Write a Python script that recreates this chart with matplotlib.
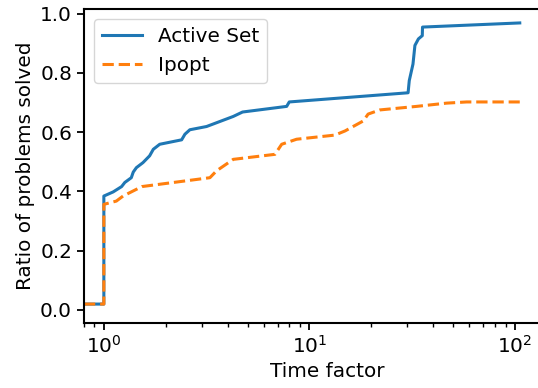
import matplotlib
import numpy as np
import matplotlib.pyplot as plt

matplotlib.use('Agg')

# performance profile, values
active_x = [0.8, 1.0, 1.0, 1.11, 1.22, 1.265, 1.36, 1.39, 1.44, 1.55, 1.67, 1.74,
            1.87, 2.39, 2.48, 2.62, 3.16, 4.26, 4.73, 7.75, 7.98, 30.2, 30.6,
            31.9, 32.6, 33.9, 35.4, 35.5, 105.5]
active_y = [0.019, 0.019, 0.384, 0.398, 0.416, 0.43, 0.446, 0.465, 0.48, 0.497, 0.52,
            0.542, 0.559, 0.574, 0.593, 0.608, 0.619, 0.653, 0.668, 0.687, 0.702,
            0.733, 0.774, 0.83, 0.893, 0.915, 0.926, 0.955, 0.969]

ipopt_x = [0.8, 1.0, 1.0, 1.15, 1.24, 1.53, 3.28, 3.53, 4.26, 6.8, 7.33, 8.66,
           13.3, 14.9, 18.3, 19.3, 22.0, 33.2, 46.5, 58.2, 105.5]
ipopt_y = [0.019, 0.019, 0.356, 0.367, 0.384, 0.416, 0.446, 0.469, 0.508, 0.525,
           0.559, 0.576, 0.59, 0.604, 0.638, 0.661, 0.675, 0.687, 0.698, 0.702, 0.702]

plt.rcParams['font.size'] = 14.4

fig = plt.figure(figsize=(5.38, 3.88), dpi=100)
right = 1.06
ax = fig.add_axes([0.156, 0.1675, right - 0.156, 0.81])

ax.plot(active_x, active_y, color="#1f77b4", lw=2.2, label="Active Set")
ax.plot(ipopt_x, ipopt_y, color="#ff7f0e", lw=2.2, ls="--", label="Ipopt")

ax.set_xscale('log')
# decade is about 205.5 px wide, 10^0 sits at x = 104 px
ax.set_xlim(0.8, 10 ** ((right * 538 - 104) / 205.5))
ax.set_ylim(-0.045, 1.017)
ax.set_yticks([0.0, 0.2, 0.4, 0.6, 0.8, 1.0])
ax.set_xlabel("Time factor")
ax.set_ylabel("Ratio of problems solved")
for s in ax.spines.values():
    s.set_linewidth(1.5)
ax.spines['right'].set_visible(False)
ax.tick_params(which='major', width=1.3, length=5)
ax.tick_params(which='minor', width=1.0, length=3)
ax.legend(loc="upper left")

fig.savefig("out.png", dpi=100)
